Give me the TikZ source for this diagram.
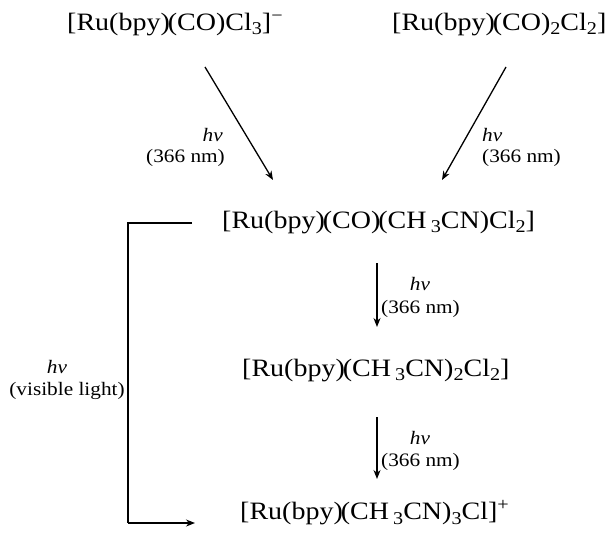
\documentclass[tikz,border=0pt]{standalone}
\usepackage{fontspec}
\setmainfont[FakeStretch=1.12]{Liberation Serif}
\usetikzlibrary{arrows.meta}
\newcommand{\sbs}[1]{\raisebox{-0.35ex}{\fontsize{18}{18}\selectfont #1}}
\newcommand{\sps}[1]{\raisebox{0.8ex}{\fontsize{18}{18}\selectfont #1}}
\newcommand{\pk}{\kern-2pt}
\tikzset{
  chem/.style={font=\fontsize{25}{27}\selectfont, inner sep=0pt},
  lbl/.style={font=\fontsize{19}{21}\selectfont, inner sep=0pt, align=center},
  rxn/.style={draw, line width=1.3pt, -{Stealth[length=9pt,width=7pt]}},
  lnk/.style={draw, line width=1.3pt}
}
\begin{document}
\begin{tikzpicture}[x=1pt,y=-1pt]
\useasboundingbox (0,0) rectangle (613,536);
\node[chem, anchor=west] (a) at (67,25) {[Ru(bpy)\pk(CO)Cl\sbs{3}]\sps{−}};
\node[chem, anchor=west] (b) at (392,25) {[Ru(bpy)\pk(CO)\sbs{2}Cl\sbs{2}]};
\node[chem, anchor=west] (c) at (222,223) {[Ru(bpy)\pk(CO)\pk(CH\,\sbs{3}CN)Cl\sbs{2}]};
\node[chem, anchor=west] (d) at (242,371) {[Ru(bpy)\pk(CH\,\sbs{3}CN)\sbs{2}Cl\sbs{2}]};
\node[chem, anchor=west] (e) at (240,513) {[Ru(bpy)\pk(CH\,\sbs{3}CN)\sbs{3}Cl]\sps{+}};
\coordinate (a1) at (205,67);
\coordinate (a2) at (273,180);
\coordinate (b1) at (506,67);
\coordinate (b2) at (442,180);
\draw[rxn] (a1) -- (a2);
\draw[rxn] (b1) -- (b2);
\node[lbl, anchor=east] (l1) at (223,135) {\textit{hν}};
\node[lbl, anchor=east] (l2) at (225,158) {(366 nm)};
\node[lbl, anchor=west] (r1) at (482,135) {\textit{hν}};
\node[lbl, anchor=west] (r2) at (482,158) {(366 nm)};
\coordinate (c1) at (377,263);
\coordinate (c2) at (377,327);
\draw[rxn] (c1) -- (c2);
\node[lbl] (m1) at (420,284) {\textit{hν}};
\node[lbl, anchor=west] (m2) at (381,309) {(366 nm)};
\coordinate (d1) at (377,417);
\coordinate (d2) at (377,479);
\draw[rxn] (d1) -- (d2);
\node[lbl] (n1) at (420,438) {\textit{hν}};
\node[lbl, anchor=west] (n2) at (381,462) {(366 nm)};
\coordinate (v1) at (192,223);
\coordinate (v2) at (128,223);
\coordinate (v3) at (128,523);
\coordinate (v4) at (195,523);
\draw[lnk] (v1) -- (v2) -- (v3);
\draw[rxn] (v3) -- (v4);
\node[lbl] (vl1) at (57,367) {\textit{hν}};
\node[lbl] (vl2) at (67,391) {(visible light)};
\end{tikzpicture}
\end{document}
